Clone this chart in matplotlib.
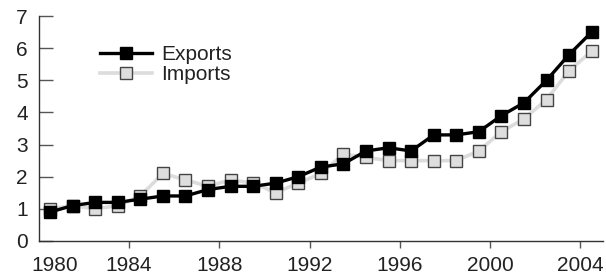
import matplotlib
matplotlib.use("Agg")
import matplotlib.pyplot as plt
import matplotlib.transforms as mtransforms

plt.rcParams['font.family'] = ['Liberation Sans', 'DejaVu Sans']

# Data (points sit mid-year)
years = [y + 0.5 for y in range(1980, 2005)]
exports = [0.9, 1.1, 1.2, 1.2, 1.3, 1.4, 1.4, 1.6, 1.7, 1.7, 1.8, 2.0, 2.3,
           2.4, 2.8, 2.9, 2.8, 3.3, 3.3, 3.4, 3.9, 4.3, 5.0, 5.8, 6.5]
imports = [1.0, 1.1, 1.0, 1.1, 1.4, 2.1, 1.9, 1.7, 1.9, 1.8, 1.5, 1.8, 2.1,
           2.7, 2.6, 2.5, 2.5, 2.5, 2.5, 2.8, 3.4, 3.8, 4.4, 5.3, 5.9]
xticks = [1980, 1984, 1988, 1992, 1996, 2000, 2004]
yticks = list(range(0, 8))

fs = 15

fig = plt.figure(figsize=(6.06, 2.76), dpi=100)
ax = fig.add_axes([0.064, 0.127, 0.931, 0.815])

ax.plot(years, imports, color='#dcdcdc', lw=2.6, marker='s', ms=9,
        mfc='#dedede', mec='#444444', mew=1.0, label='Imports',
        solid_joinstyle='round', zorder=2)
ax.plot(years, exports, color='black', lw=2.4, marker='s', ms=9,
        mfc='black', mec='black', label='Exports', zorder=3)

ax.set_xlim(1980, 2005)
ax.set_ylim(0, 7)
ax.set_xticks(xticks)
ax.set_yticks(yticks)

for s in ['top', 'right']:
    ax.spines[s].set_visible(False)
for s in ['left', 'bottom']:
    ax.spines[s].set_color('#333333')
    ax.spines[s].set_linewidth(1.0)

ax.tick_params(axis='y', direction='in', length=10, width=1.0,
               color='#555555', labelsize=fs, labelcolor='#222222', pad=8)
ax.tick_params(axis='x', direction='out', length=5, width=1.0,
               color='#555555', labelsize=fs, labelcolor='#222222', pad=6)

# first year label sits a little right of the spine
first = ax.get_xticklabels()[0]
first.set_transform(first.get_transform() +
                    mtransforms.ScaledTranslation(0.16, 0, fig.dpi_scale_trans))
ax.xaxis.get_major_ticks()[0].tick1line.set_visible(False)

handles, labels = ax.get_legend_handles_labels()
ax.legend(handles[::-1], labels[::-1], loc='upper left',
          bbox_to_anchor=(0.108, 0.87), frameon=False, fontsize=fs,
          handlelength=2.5, handletextpad=0.45, labelspacing=0.05,
          borderaxespad=0, borderpad=0, labelcolor='#222222')

fig.savefig('out.png', dpi=100)
